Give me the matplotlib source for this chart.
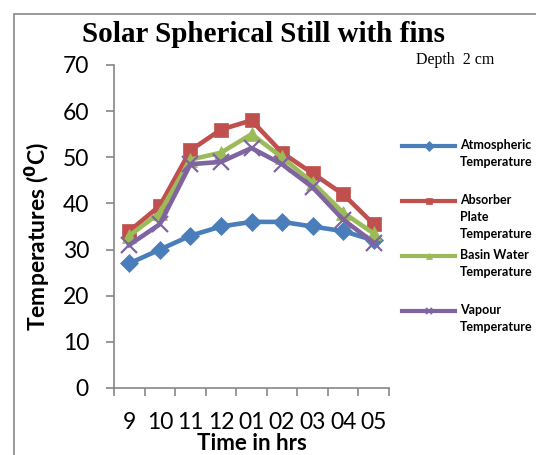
import matplotlib
matplotlib.use("Agg")
import matplotlib.pyplot as plt
from matplotlib.lines import Line2D
from matplotlib.patches import Rectangle

# Data
hours = ["9", "10", "11", "12", "01", "02", "03", "04", "05"]
atmospheric = [27, 30, 33, 35, 36, 36, 35, 34, 32]
absorber = [34, 39.5, 51.5, 56, 58, 51, 46.5, 42, 35.5]
basin = [33, 38, 49.5, 51, 55, 50, 44.5, 38, 33.5]
vapour = [31, 35.5, 48.5, 49, 52, 48.5, 43.5, 36.5, 31.5]

series_labels = ["Atmospheric\nTemperature", "Absorber\nPlate\nTemperature",
                 "Basin Water\nTemperature", "Vapour\nTemperature"]
colors = ["#4A7EBB", "#C0504D", "#9BBB59", "#8064A2"]
markers = ["D", "s", "^", "x"]
msizes = [9, 10.5, 10.5, 11]

sans = "Lato"
axis_grey = "#868686"

fig = plt.figure(figsize=(5.36, 4.55), dpi=100)
ax = fig.add_axes([114 / 536, 1 - 388 / 455, 275 / 536, 323 / 455])

x = range(len(hours))
for vals, c, m, ms in zip([atmospheric, absorber, basin, vapour], colors, markers, msizes):
    ax.plot(x, vals, color=c, lw=3.3, marker=m, markersize=ms,
            markeredgewidth=1.6 if m == "x" else 0.5, markeredgecolor=c, solid_joinstyle="round")

ax.set_xlim(-0.5, len(hours) - 0.5)
ax.set_ylim(0, 70)
ax.set_yticks(range(0, 71, 10))
ax.set_xticks([i + 0.5 for i in range(-1, len(hours))], minor=False)
ax.set_xticklabels([])
ax.set_xticks(list(x), minor=True)
ax.set_xticklabels(hours, minor=True)
ax.tick_params(axis="x", which="major", length=6, width=1.2, color=axis_grey, direction="out")
ax.tick_params(axis="x", which="minor", length=0, pad=17, labelsize=16.5)
ax.tick_params(axis="y", length=6, width=1.2, color=axis_grey, direction="out", pad=12, labelsize=16.5)
for lab in ax.get_xticklabels(minor=True) + ax.get_yticklabels():
    lab.set_fontfamily(sans)

for side in ["top", "right"]:
    ax.spines[side].set_visible(False)
for side in ["left", "bottom"]:
    ax.spines[side].set_color(axis_grey)
    ax.spines[side].set_linewidth(1.2)

ax.set_xlabel("Time in hrs", fontfamily=sans, fontweight="bold", fontsize=16, labelpad=0)
ax.xaxis.set_label_coords(0.5, -0.14)
ax.set_ylabel("Temperatures ($\\mathbf{^0}$C)", fontfamily=sans, fontweight="bold", fontsize=16.5)
ax.yaxis.set_label_coords(-0.225, 0.47)

fig.text(264 / 536, 1 - 42 / 455, "Solar Spherical Still with fins", ha="center", va="baseline",
         fontfamily="Liberation Serif", fontweight="bold", fontsize=21)
fig.text(416 / 536, 1 - 64 / 455, "Depth  2 cm", ha="left", va="baseline",
         fontfamily="Liberation Serif", fontsize=11.5)

# legend drawn by hand to follow the Excel layout
key_y = [146, 201, 256, 311]
for lab, c, m, yy in zip(series_labels, colors, markers, key_y):
    yf = 1 - yy / 455
    fig.add_artist(Line2D([402 / 536, 455 / 536], [yf, yf], transform=fig.transFigure,
                          color=c, lw=3.0))
    fig.add_artist(Line2D([428.5 / 536], [yf], transform=fig.transFigure, color=c,
                          marker=m, markersize=5, markeredgewidth=1.4 if m == "x" else 0.5,
                          markeredgecolor=c))
    fig.text(460 / 536, yf + 7 / 455, lab, ha="left", va="top", fontfamily=sans,
             fontweight="bold", fontsize=9, linespacing=1.5)

# outer frame of the chart area
fig.add_artist(Rectangle((14 / 536, -0.1), 1.2, 1.1 - 14 / 455, transform=fig.transFigure,
                         fill=False, edgecolor="#888888", lw=1.2))

fig.savefig("out.png", dpi=100)
